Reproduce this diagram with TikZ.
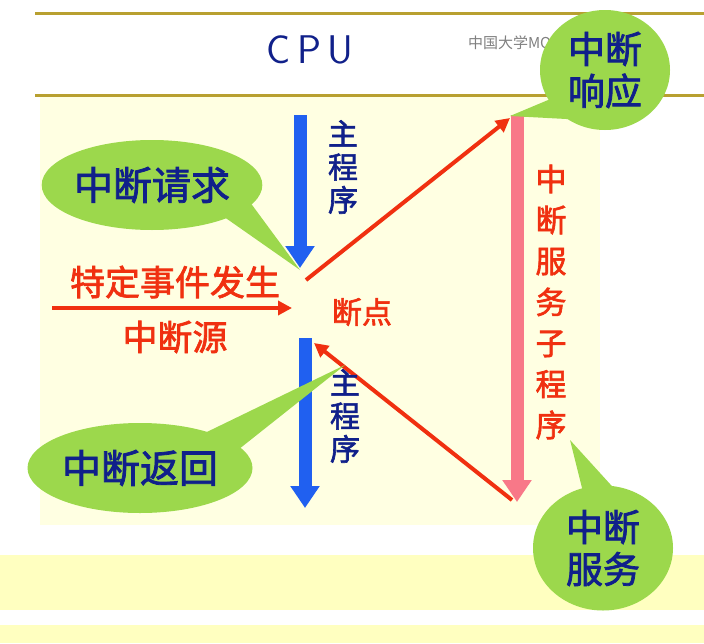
\documentclass[tikz,border=0pt]{standalone}
\usepackage{fontspec}
\newfontfamily\cjk{Noto Sans CJK SC}[AutoFakeBold=2]
\usetikzlibrary{arrows.meta,shapes.geometric}
\definecolor{pale}{HTML}{FFFFE2}
\definecolor{band}{HTML}{FFFFC0}
\definecolor{gold}{HTML}{B8A030}
\definecolor{navy}{HTML}{10208A}
\definecolor{rd}{HTML}{F03010}
\definecolor{pk}{HTML}{F87888}
\definecolor{bl}{HTML}{2060F0}
\definecolor{gr}{HTML}{9CD84C}
\tikzset{
 x=1pt,y=-1pt,
 bubble/.style={ellipse,fill=gr,draw=none,text=navy,font=\cjk\bfseries\fontsize{39}{40}\selectfont,inner sep=0pt},
 rtxt/.style={text=rd,font=\cjk\bfseries\fontsize{35}{37}\selectfont},
 btxt/.style={text=navy,font=\cjk\bfseries\fontsize{30}{33}\selectfont,align=center},
 redarr/.style={draw=rd,line width=4pt,-{Triangle[length=14pt,width=14pt]}},
 bluearr/.style={draw=bl,line width=13pt,-{Triangle[length=22pt,width=28pt]}},
}
\begin{document}
\begin{tikzpicture}
\useasboundingbox (0,0) rectangle (704,643);
\fill[white] (0,0) rectangle (704,643);
\fill[pale] (40,95) rectangle (600,525);
\fill[band] (0,555) rectangle (704,610);
\fill[band] (0,625) rectangle (704,643);
\draw[gold,line width=3pt] (35,13) -- (704,13);
\draw[gold,line width=3pt] (35,95) -- (704,95);
\node[text=navy,font=\sffamily\fontsize{40}{42}\selectfont] (cpu) at (310,50) {C\,P\,U};
\node[text=gray,font=\cjk\fontsize{15}{16}\selectfont] (wm) at (520,43) {中国大学MOOC};
% blue arrows
\coordinate (b1s) at (300,115); \coordinate (b1e) at (300,268);
\coordinate (b2s) at (305,338); \coordinate (b2e) at (305,508);
\draw[bluearr] (b1s) -- (b1e);
\draw[bluearr] (b2s) -- (b2e);
% pink arrow
\coordinate (ps) at (517,115); \coordinate (pe) at (517,502);
\draw[draw=pk,line width=13pt,-{Triangle[length=22pt,width=28pt]}] (ps) -- (pe);
% red arrows
\coordinate (bp1) at (306,280); \coordinate (top) at (510,118);
\coordinate (bot) at (512,500); \coordinate (bp2) at (314,343);
\draw[redarr] (bp1) -- (top);
\draw[redarr] (bot) -- (bp2);
\coordinate (hs) at (52,308); \coordinate (he) at (292,308);
\draw[redarr] (hs) -- (he);
% bubbles
\fill[gr] (200,200) -- (300,270) -- (230,175) -- cycle;
\node[bubble,minimum width=220pt,minimum height=90pt] (req) at (152,185) {中断请求};
\fill[gr] (180,445) -- (345,365) -- (200,480) -- cycle;
\node[bubble,minimum width=225pt,minimum height=90pt] (ret) at (140,468) {中断返回};
\fill[gr] (560,95) -- (510,116) -- (585,120) -- cycle;
\node[bubble,minimum width=130pt,minimum height=120pt,align=center,font=\cjk\bfseries\fontsize{37}{42}\selectfont] (resp) at (605,70) {中断\\响应};
\fill[gr] (585,500) -- (570,440) -- (620,495) -- cycle;
\node[bubble,minimum width=140pt,minimum height=125pt,align=center,font=\cjk\bfseries\fontsize{37}{42}\selectfont] (srv) at (603,548) {中断\\服务};
% texts
\node[btxt] (m1) at (343,167) {主\\程\\序};
\node[btxt] (m2) at (345,416) {主\\程\\序};
\node[rtxt,align=center,font=\cjk\bfseries\fontsize{31}{41}\selectfont] (sub) at (551,302) {中\\断\\服\\务\\子\\程\\序};
\node[rtxt] (evt) at (175,282) {特定事件发生};
\node[rtxt] (src) at (175,337) {中断源};
\node[rtxt,font=\cjk\bfseries\fontsize{30}{32}\selectfont] (bp) at (362,312) {断点};
\end{tikzpicture}
\end{document}
